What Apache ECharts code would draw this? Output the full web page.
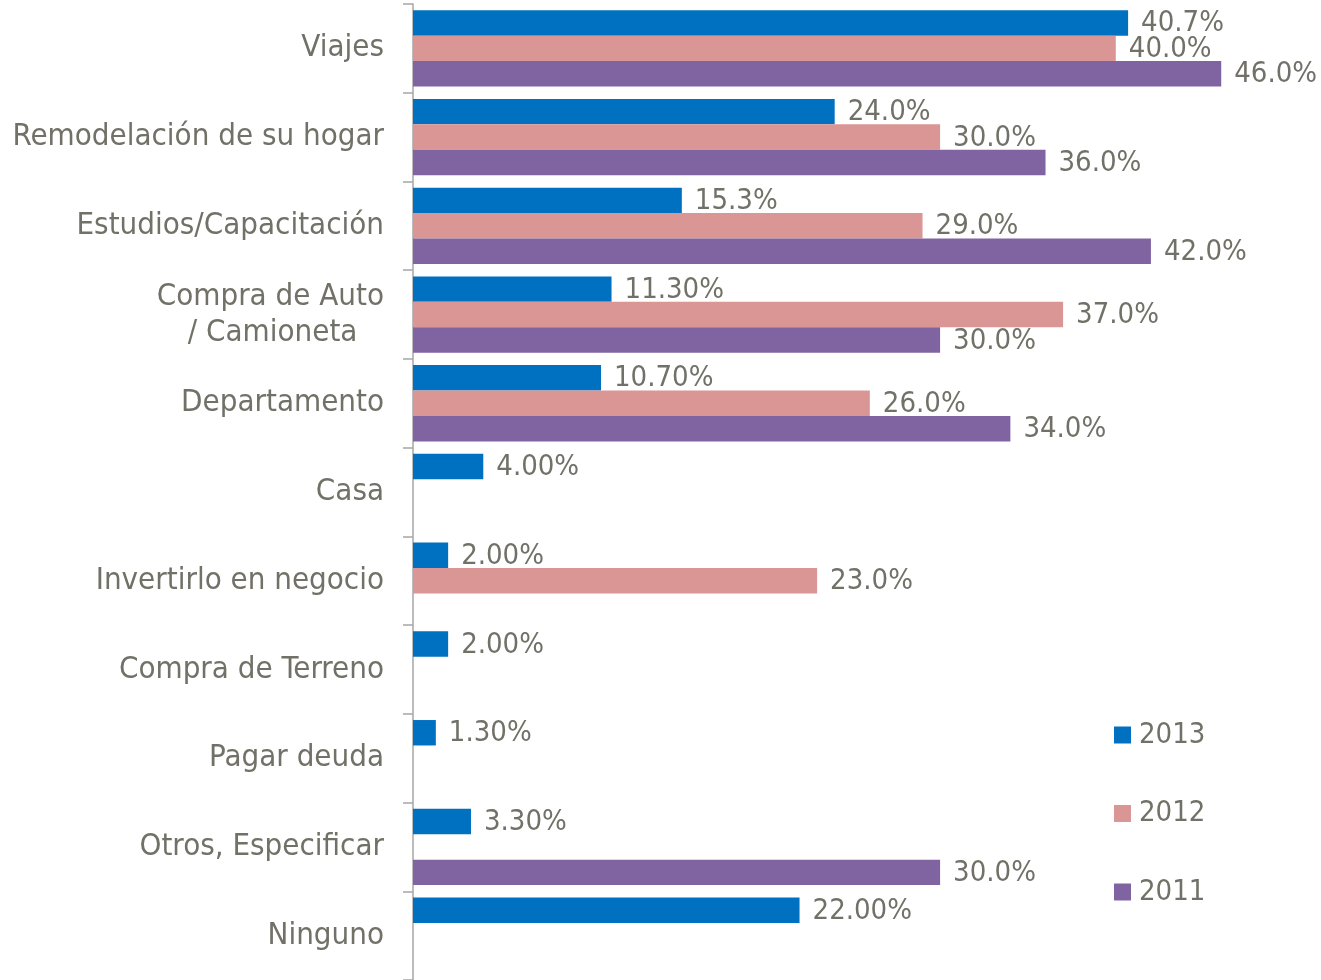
<!DOCTYPE html>
<html>
<head>
<meta charset="utf-8">
<script src="https://cdn.jsdelivr.net/npm/echarts@6/dist/echarts.min.js"></script>
<style>html,body{margin:0;padding:0;background:#fff;}#c{width:1321px;height:980px;}</style>
</head>
<body>
<div id="c"></div>
<script>
var categories = ['Viajes', 'Remodelación de su hogar', 'Estudios/Capacitación', 'Compra de Auto\n/ Camioneta   ', 'Departamento', 'Casa', 'Invertirlo en negocio', 'Compra de Terreno', 'Pagar deuda', 'Otros, Especificar', 'Ninguno'];
var seriesNames = ['2013', '2012', '2011'];
var values2013 = [40.7, 24.0, 15.3, 11.3, 10.7, 4.0, 2.0, 2.0, 1.3, 3.3, 22.0];
var values2012 = [40.0, 30.0, 29.0, 37.0, 26.0, null, 23.0, null, null, null, null];
var values2011 = [46.0, 36.0, 42.0, 30.0, 34.0, null, null, null, null, 30.0, null];
var labels2013 = ['40.7%', '24.0%', '15.3%', '11.30%', '10.70%', '4.00%', '2.00%', '2.00%', '1.30%', '3.30%', '22.00%'];
var labels2012 = ['40.0%', '30.0%', '29.0%', '37.0%', '26.0%', '', '23.0%', '', '', '', ''];
var labels2011 = ['46.0%', '36.0%', '42.0%', '30.0%', '34.0%', '', '', '', '', '30.0%', ''];
var colors = ['#0070C0', '#DA9694', '#8064A2'];

var FONT = 'DejaVu Sans Condensed';
var TXT = '#717168';
var chart = echarts.init(document.getElementById('c'));
function mk(name, vals, labs, color) {
  return {
    name: name, type: 'bar', data: vals,
    barGap: '0%', barCategoryGap: '14%',
    itemStyle: { color: color },
    label: { show: true, position: 'right', distance: 13, color: TXT, fontFamily: FONT, fontSize: 29,
      offset: [0, 1],
      formatter: function (p) { return labs[p.dataIndex]; } }
  };
}
chart.setOption({
  animation: false,
  grid: { left: 413, top: 4, bottom: 0, right: 29.5, containLabel: false },
  xAxis: { type: 'value', min: 0, max: 50, show: false },
  yAxis: {
    type: 'category', data: categories, inverse: true,
    axisLine: { show: true, lineStyle: { color: '#A6A6A6', width: 1.5 } },
    axisTick: { show: true, length: 10, lineStyle: { color: '#A6A6A6', width: 1.5 } },
    axisLabel: { margin: 29, color: TXT, fontFamily: FONT, fontSize: 31, lineHeight: 36 }
  },
  legend: {
    orient: 'vertical', left: 1109, top: 715, itemWidth: 17, itemHeight: 17, itemGap: 48.5,
    icon: 'rect', data: seriesNames,
    textStyle: { color: TXT, fontFamily: FONT, fontSize: 29, lineHeight: 30, padding: [0, 0, 0, 3] }
  },
  series: [
    mk(seriesNames[0], values2013, labels2013, colors[0]),
    mk(seriesNames[1], values2012, labels2012, colors[1]),
    mk(seriesNames[2], values2011, labels2011, colors[2])
  ]
});
</script>
</body>
</html>
